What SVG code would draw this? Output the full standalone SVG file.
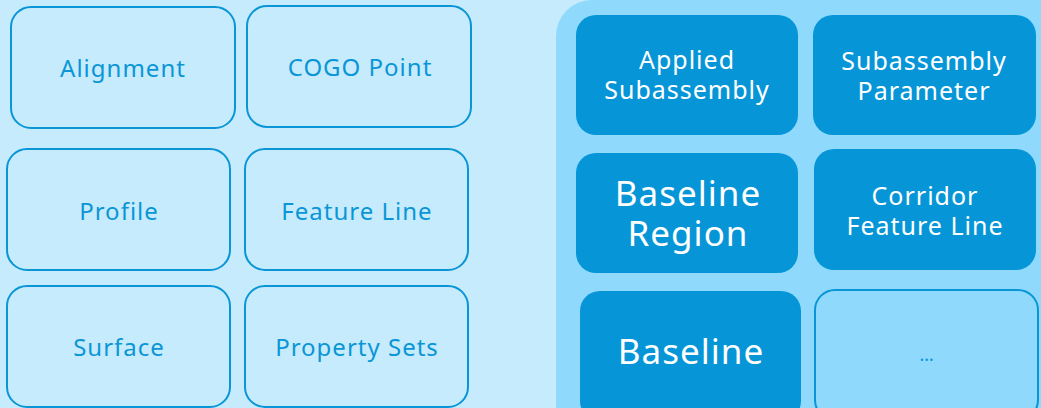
<svg xmlns="http://www.w3.org/2000/svg" width="1041" height="408" viewBox="0 0 1041 408">
<style>
.bg{fill:#C6EBFD}
.panel{fill:#8FD9FC}
.out{fill:#C6EBFD;stroke:#0A96D6;stroke-width:2}
.out2{fill:#8FD9FC;stroke:#0A96D6;stroke-width:2}
.dark{fill:#0696D7}
text{font-family:"Noto Sans","Open Sans",sans-serif;text-anchor:middle;font-weight:400;letter-spacing:1px}
.lt{fill:#0A96D6;font-size:24px}
.wt{fill:#FFFFFF;font-size:25px}
.wb{fill:#FFFFFF;font-size:35px}
</style>
<rect class="bg" x="0" y="0" width="1041" height="408"/>
<rect class="panel" x="556" y="0" width="520" height="460" rx="36"/>
<g id="alignment"><rect class="out" x="11" y="7" width="224" height="121" rx="20"/><text class="lt" x="123" y="77">Alignment</text></g>
<g id="cogo-point"><rect class="out" x="247" y="6" width="224" height="121" rx="20"/><text class="lt" x="360" y="76">COGO Point</text></g>
<g id="profile"><rect class="out" x="7" y="149" width="223" height="121" rx="20"/><text class="lt" x="119" y="220">Profile</text></g>
<g id="feature-line"><rect class="out" x="245" y="149" width="223" height="121" rx="20"/><text class="lt" x="357" y="220">Feature Line</text></g>
<g id="surface"><rect class="out" x="7" y="286" width="223" height="121" rx="20"/><text class="lt" x="119" y="356">Surface</text></g>
<g id="property-sets"><rect class="out" x="245" y="286" width="223" height="121" rx="20"/><text class="lt" x="357" y="356">Property Sets</text></g>
<g id="applied-subassembly"><rect class="dark" x="576" y="15" width="222" height="120" rx="20"/><text class="wt" x="687" y="69"><tspan x="687">Applied</tspan><tspan x="687" dy="30">Subassembly</tspan></text></g>
<g id="subassembly-parameter"><rect class="dark" x="813" y="15" width="223" height="120" rx="20"/><text class="wt" x="924" y="69.5"><tspan x="924">Subassembly</tspan><tspan x="924" dy="30">Parameter</tspan></text></g>
<g id="baseline-region"><rect class="dark" x="576" y="153" width="222" height="120" rx="20"/><text class="wb" x="688" y="206"><tspan x="688">Baseline</tspan><tspan x="688" dy="40">Region</tspan></text></g>
<g id="corridor-feature-line"><rect class="dark" x="814" y="149" width="222" height="121" rx="20"/><text class="wt" x="925" y="204.5"><tspan x="925">Corridor</tspan><tspan x="925" dy="30">Feature Line</tspan></text></g>
<g id="baseline"><rect class="dark" x="580" y="291" width="221" height="130" rx="20"/><text class="wb" x="691" y="364">Baseline</text></g>
<g id="more"><rect class="out2" x="815" y="290" width="223" height="130" rx="20"/><text class="lt" x="927" y="361" style="font-size:18px">…</text></g>
<g id="connectors"/>
</svg>
